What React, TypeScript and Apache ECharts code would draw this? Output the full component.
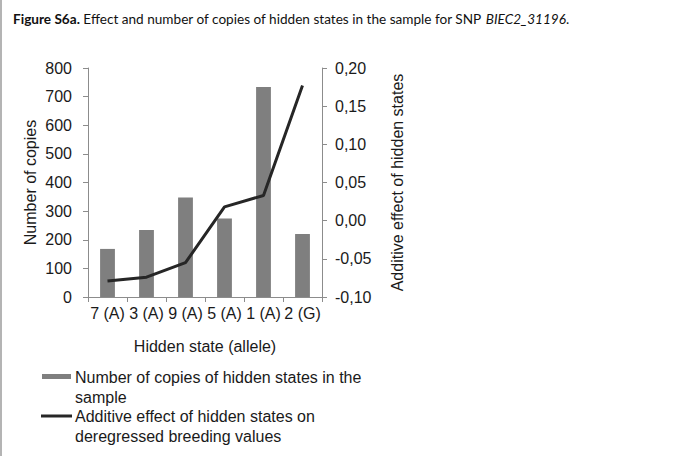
import React, { useEffect, useRef } from "react";
import * as echarts from "echarts";

// Hidden states (alleles) for SNP BIEC2_31196
const categories = ["7 (A)", "3 (A)", "9 (A)", "5 (A)", "1 (A)", "2 (G)"];
// Number of copies of each hidden state in the sample
const copies = [168, 234, 348, 274, 734, 220];
// Additive effect of each hidden state on deregressed breeding values
const effects = [-0.079, -0.074, -0.055, 0.018, 0.033, 0.177];

const copiesName = "Number of copies of hidden states in the sample";
const effectName = "Additive effect of hidden states on deregressed breeding values";
const copiesLegend = ["Number of copies of hidden states in the", "sample"];
const effectLegend = ["Additive effect of hidden states on", "deregressed breeding values"];

const leftTicks = { min: 0, max: 800, interval: 100 };
const rightTicks = { min: -0.1, max: 0.2, interval: 0.05 };

const BAR_COLOR = "#7f7f7f";
const LINE_COLOR = "#262626";
const AXIS_COLOR = "#8c8c8c";
const FONT = "'Liberation Sans', Arial, sans-serif";

export default function App() {
  const ref = useRef<HTMLDivElement>(null);

  useEffect(() => {
    if (!ref.current) return;
    const chart = echarts.init(ref.current, null, { renderer: "svg" });

    const axisCommon = {
      axisLine: { show: true, lineStyle: { color: AXIS_COLOR, width: 1 } },
      axisTick: { show: true, length: 5, lineStyle: { color: AXIS_COLOR } },
      splitLine: { show: false },
      axisLabel: { color: "#1a1a1a", fontSize: 16, fontFamily: FONT },
      nameTextStyle: { color: "#1a1a1a", fontSize: 16, fontFamily: FONT },
    };

    chart.setOption({
      animation: false,
      backgroundColor: "#ffffff",
      textStyle: { fontFamily: FONT },
      title: {
        left: 8,
        top: 7,
        text: "{b|Figure S6a.} Effect and number of copies of hidden states in the sample for SNP {i|BIEC2_31196}.",
        textStyle: {
          fontFamily: "Lato, 'Open Sans', sans-serif",
          fontSize: 13.6,
          fontWeight: "normal",
          color: "#111",
          rich: {
            b: { fontFamily: "Lato, sans-serif", fontSize: 13.6, fontWeight: "bold", color: "#111" },
            i: { fontFamily: "Lato, sans-serif", fontSize: 13.6, fontStyle: "italic", color: "#111" },
          },
        },
      },
      grid: { left: 88, right: 373, top: 68, bottom: 159 },
      xAxis: {
        type: "category",
        data: categories,
        ...axisCommon,
        axisTick: { show: true, length: 5, alignWithLabel: false, lineStyle: { color: AXIS_COLOR } },
        axisLabel: { ...axisCommon.axisLabel, margin: 8, interval: 0 },
        name: "Hidden state (allele)",
        nameLocation: "middle",
        nameGap: 41,
      },
      yAxis: [
        {
          type: "value",
          ...leftTicks,
          ...axisCommon,
          axisLabel: { ...axisCommon.axisLabel, margin: 16 },
          name: "Number of copies",
          nameLocation: "middle",
          nameGap: 50,
        },
        {
          type: "value",
          position: "right",
          ...rightTicks,
          ...axisCommon,
          axisLabel: {
            ...axisCommon.axisLabel,
            margin: 13,
            formatter: (v: number) => v.toFixed(2).replace(".", ","),
          },
          name: "Additive effect of hidden states",
          nameLocation: "middle",
          nameGap: 67,
          nameRotate: 90,
        },
      ],
      series: [
        {
          name: copiesName,
          type: "bar",
          data: copies,
          yAxisIndex: 0,
          barWidth: "38%",
          itemStyle: { color: BAR_COLOR },
        },
        {
          name: effectName,
          type: "line",
          data: effects,
          yAxisIndex: 1,
          symbol: "none",
          lineStyle: { color: LINE_COLOR, width: 3 },
          z: 5,
        },
      ],
      graphic: [
        // frame line on the left edge of the figure
        { type: "rect", left: 0, top: 0, shape: { width: 2, height: 456 }, style: { fill: "#b4b4b4" } },
        // legend: bar entry
        { type: "rect", shape: { x: 42, y: 374, width: 29, height: 5 }, style: { fill: BAR_COLOR } },
        {
          type: "text",
          x: 75,
          y: 367,
          style: {
            text: copiesLegend.join("\n"),
            font: `16px ${FONT}`,
            lineHeight: 20,
            fill: "#1a1a1a",
          },
        },
        // legend: line entry
        { type: "line", shape: { x1: 41, y1: 416, x2: 72, y2: 416 }, style: { stroke: LINE_COLOR, lineWidth: 3 } },
        {
          type: "text",
          x: 75,
          y: 406,
          style: {
            text: effectLegend.join("\n"),
            font: `16px ${FONT}`,
            lineHeight: 20,
            fill: "#1a1a1a",
          },
        },
      ],
    });

    return () => chart.dispose();
  }, []);

  return (
    <div
      ref={ref}
      style={{ position: "absolute", left: 0, top: 0, width: 695, height: 456 }}
    />
  );
}
